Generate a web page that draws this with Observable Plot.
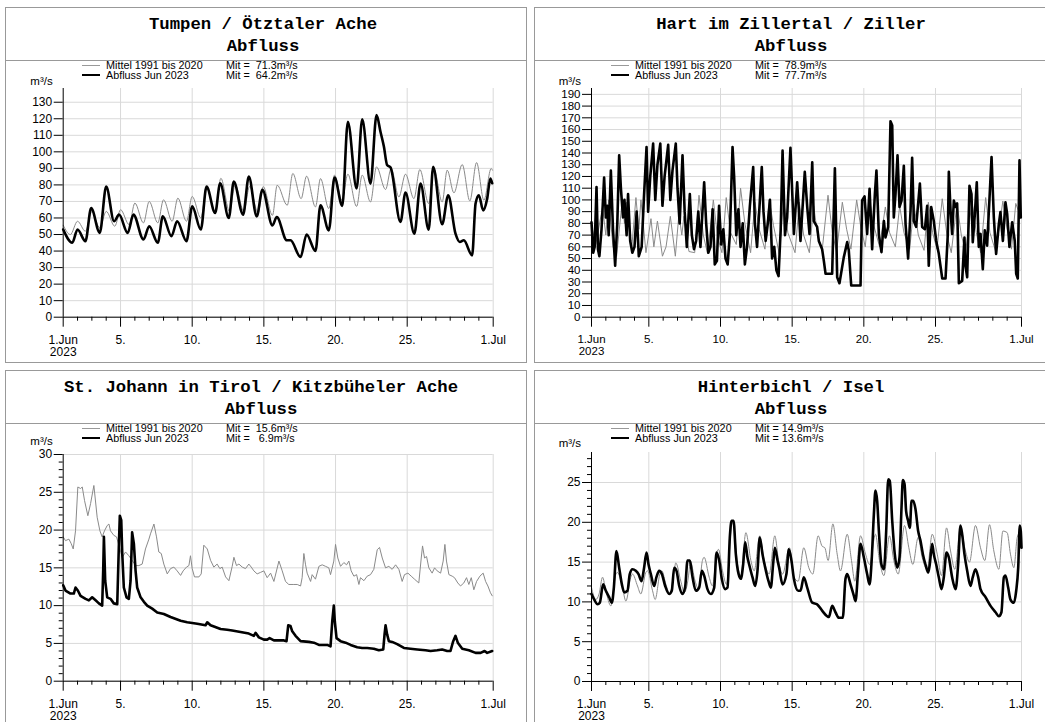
<!DOCTYPE html>
<html><head><meta charset="utf-8">
<script src="https://cdn.jsdelivr.net/npm/d3@7"></script>
<script src="https://cdn.jsdelivr.net/npm/@observablehq/plot@0.6"></script>
<style>
html,body{margin:0;padding:0;background:#fff;}
#page{position:relative;width:1045px;height:722px;overflow:hidden;font-family:"Liberation Sans",Arial,sans-serif;color:#000;}
.box{position:absolute;border:1px solid #999;box-sizing:border-box;}
.sep{position:absolute;height:0;border-top:1px solid #999;}
.t{position:absolute;white-space:pre;height:20px;line-height:20px;}
.title{font-family:"Liberation Mono","Courier New",monospace;font-weight:bold;font-size:17.3px;}
.leg{font-size:10.8px;}
.unit{font-size:11.5px;}
.plot{position:absolute;}
#page svg text{font-size:12px;font-family:"Liberation Sans",Arial,sans-serif;fill:#000;}
#page svg.dense text{font-size:11.5px;}
</style>
</head><body><div id="page"></div>
<script>
// ---------- shared axis definitions ----------
const majorDays = [0, 4, 9, 14, 19, 24, 30];
const xTickLabels = ["1.Jun\n2023", "5.", "10.", "15.", "20.", "25.", "1.Jul"];
const legendLabels = ["Mittel 1991 bis 2020", "Abfluss Jun 2023"];

// ---------- Tumpen / Ötztaler Ache ----------
const tumpenYTicks = [0,10,20,30,40,50,60,70,80,90,100,110,120,130];
const tumpenMeans = ["Mit =  71.3m³/s", "Mit =  64.2m³/s"];
const tumpenMittel = [[0,55.6],[0.5,50],[1.0,58],[1.55,52],[2.0,64],[2.55,54],[3.0,64],[3.6,55],[4.0,65],[4.6,56],[5.0,69],[5.6,57],[6.0,70],[6.6,57],[7.0,71],[7.6,58],[8.0,72],[8.6,58],[9.0,73],[9.6,60],[10.0,78],[10.6,64],[11.0,84],[11.6,64],[12.0,80],[12.6,64],[13.0,79],[13.6,63],[13.95,79],[14.6,61.6],[14.93,79.8],[15.63,67.7],[16.02,86.9],[16.6,71.7],[16.98,85.3],[17.6,66.7],[17.95,83.8],[18.53,65.7],[18.93,85.9],[19.45,70.7],[19.86,86.5],[20.47,67],[20.86,85.9],[21.44,69.7],[21.86,90.9],[22.49,77.2],[22.88,89.9],[23.42,72.7],[23.88,86.5],[24.47,71.7],[24.88,89.3],[25.5,68.7],[25.86,89.9],[26.44,69.7],[26.79,88.9],[27.26,75.2],[27.84,92.3],[28.37,70.3],[28.84,93.5],[29.35,70.7],[29.86,89.9],[29.95,88.9]];
const tumpenAbfluss = [[0,53],[0.63,45],[1.0,53],[1.55,46],[1.95,66],[2.55,51],[3.0,79],[3.55,58],[3.9,62],[4.5,51],[4.9,62],[5.6,47],[6.0,55],[6.6,45],[6.95,61],[7.55,49],[7.95,58],[8.6,46],[9.0,67],[9.6,53],[10.0,79],[10.6,63],[10.95,81],[11.55,60],[11.9,82],[12.55,62],[12.95,85],[13.5,61],[13.9,77],[14.6,55.5],[14.9,60.6],[15.6,46.5],[15.86,46.5],[16.56,36.4],[16.98,50],[17.6,40],[17.95,67.7],[18.53,52.5],[18.93,84.4],[19.47,67.3],[19.86,118.2],[20.47,77.8],[20.86,119.6],[21.44,80.8],[21.86,122.2],[22.14,112],[22.37,103.4],[22.6,92],[22.84,90.5],[23.53,57.6],[23.88,75.4],[24.5,50.5],[24.93,80.8],[25.5,52.9],[25.81,90.9],[26.44,56.2],[26.86,73.7],[27.37,50.5],[27.67,45.5],[27.95,46.5],[28.53,37.4],[28.77,68.7],[29.0,73.7],[29.3,64.6],[29.58,71.7],[29.8,83.8],[29.93,81]];

// ---------- Hart im Zillertal / Ziller ----------
const hartYTicks = [0,10,20,30,40,50,60,70,80,90,100,110,120,130,140,150,160,170,180,190];
const hartMeans = ["Mit =  78.9m³/s", "Mit =  77.7m³/s"];
const hartMittel = [[0,78],[0.3,62],[0.77,94],[1.0,70],[1.2,100],[1.5,60],[1.75,52],[2.15,100],[2.3,80],[2.45,98],[2.8,58],[3.1,102],[3.3,75],[3.45,100],[3.8,55],[4.15,84],[4.35,60],[4.6,82],[4.95,52],[5.2,60],[5.5,86],[5.85,52],[6.1,88],[6.3,70],[6.45,86],[6.8,56],[7.2,55],[7.5,104],[7.8,70],[8.1,54],[8.5,100],[8.8,68],[9.1,55],[9.4,102],[9.7,72],[10.1,62],[10.4,110],[10.7,80],[11.1,55],[11.4,98],[11.7,75],[12.1,58],[12.4,100],[12.7,78],[13.1,54],[13.4,100],[13.7,72],[14.2,55],[14.5,98],[14.8,70],[15.2,55],[15.5,95],[15.8,68],[16.1,58],[16.5,104],[16.8,72],[17.1,56],[17.5,98],[17.8,75],[18.1,58],[18.5,100],[18.8,76],[19.1,60],[19.4,100],[19.7,78],[20.1,60],[20.5,94],[20.8,72],[21.2,60],[21.5,95],[21.8,72],[22.2,58],[22.5,96],[22.8,70],[23.2,57],[23.5,98],[23.8,72],[24.1,58],[24.47,101],[24.8,70],[25.1,55],[25.5,97],[25.8,70],[26.1,56],[26.55,98],[26.85,72],[27.15,55],[27.5,102],[27.8,72],[28.2,56],[28.7,99],[29.0,75],[29.3,58],[29.6,97],[29.95,85]];
const hartAbfluss = [[0,81],[0.12,55],[0.22,60],[0.35,111],[0.45,58],[0.55,52],[0.7,75],[0.88,119],[1.0,85],[1.1,95],[1.2,70],[1.35,125],[1.5,75],[1.65,44],[1.8,80],[1.93,138],[2.05,110],[2.2,85],[2.3,100],[2.45,70],[2.55,105],[2.7,65],[2.85,55],[3.0,60],[3.15,90],[3.3,52],[3.5,60],[3.65,100],[3.84,145],[3.95,90],[4.1,120],[4.3,148],[4.45,100],[4.6,130],[4.8,148],[4.95,95],[5.1,120],[5.35,147],[5.5,100],[5.65,125],[5.88,148],[6.0,110],[6.15,80],[6.35,138],[6.5,90],[6.65,60],[6.86,105],[7.0,70],[7.15,58],[7.3,65],[7.45,90],[7.6,60],[7.86,115],[8.0,80],[8.15,55],[8.3,60],[8.45,92],[8.6,45],[8.75,48],[8.9,95],[9.05,62],[9.2,75],[9.35,50],[9.5,45],[9.65,70],[9.84,145],[9.95,120],[10.1,70],[10.25,92],[10.4,60],[10.55,80],[10.7,45],[10.85,60],[11.05,95],[11.28,128],[11.4,80],[11.55,60],[11.7,90],[11.88,128],[12.0,90],[12.15,65],[12.3,80],[12.45,100],[12.6,50],[12.75,60],[12.9,40],[13.05,35],[13.2,75],[13.33,142],[13.5,70],[13.65,85],[13.88,144.5],[14.12,71],[14.35,115],[14.47,91],[14.58,65],[14.88,124],[15.05,94],[15.21,71],[15.4,132],[15.51,82],[15.74,77],[15.86,65],[16.09,58],[16.21,48],[16.33,37],[16.79,37],[16.98,127],[17.14,34],[17.3,29],[17.6,51],[17.84,64],[17.95,57],[18.12,27],[18.77,27],[18.88,99.5],[19.05,103],[19.23,71],[19.4,109.5],[19.58,58],[19.77,105],[19.88,125],[20.05,70],[20.23,55.5],[20.4,82],[20.51,68],[20.7,77],[20.86,167],[20.98,163.5],[21.09,85],[21.21,105],[21.35,138],[21.49,94],[21.63,99.5],[21.79,129],[21.91,79.6],[22.09,50],[22.26,91],[22.37,136],[22.49,82],[22.65,77],[22.91,114],[23.07,77],[23.26,75],[23.42,95],[23.53,44],[23.7,94],[23.88,82],[24.05,65],[24.23,54],[24.47,33],[24.7,33],[24.86,71],[24.93,124],[25.05,91],[25.16,71],[25.28,99.5],[25.4,94],[25.51,97],[25.63,29],[25.86,31],[26.02,68],[26.09,44],[26.21,34],[26.37,112],[26.51,105],[26.6,64],[26.74,87],[26.88,115],[27.02,60],[27.14,71],[27.3,41],[27.44,74],[27.6,61],[27.77,102],[27.91,136.5],[28.07,85],[28.23,54],[28.42,79.6],[28.53,89.6],[28.7,65],[28.88,98],[29.0,88],[29.16,60],[29.35,81],[29.53,65],[29.63,37],[29.74,33],[29.86,133.7],[29.95,85]];

// ---------- St. Johann in Tirol / Kitzbüheler Ache ----------
const stJohannYTicks = [0,5,10,15,20,25,30];
const stJohannYMinor = d3.range(0, 31).filter(v => v % 5 !== 0);
const stJohannMeans = ["Mit =  15.6m³/s", "Mit =   6.9m³/s"];
const stJohannMittel = [[0,19.1],[0.16,18.6],[0.4,18.8],[0.56,18.2],[0.7,17.5],[0.86,19.9],[1.02,25.7],[1.21,25.5],[1.33,25.7],[1.49,23.9],[1.72,21.9],[1.91,23.5],[2.14,25.9],[2.37,21.7],[2.56,19.9],[2.72,19.1],[2.88,19.9],[3.07,20.6],[3.19,20.8],[3.3,19.9],[3.53,19.3],[3.72,19.1],[3.88,18.0],[4.12,16.4],[4.35,17.1],[4.58,16.6],[4.81,16.0],[5.05,15.3],[5.28,15.3],[5.51,15.5],[5.74,17.5],[5.98,18.8],[6.09,19.5],[6.33,20.8],[6.51,19.1],[6.67,17.1],[6.84,16.9],[7.02,15.5],[7.26,14.2],[7.49,14.9],[7.72,15.1],[7.95,14.6],[8.19,14.0],[8.37,14.6],[8.6,15.1],[8.77,15.3],[8.88,16.6],[9.0,14.9],[9.16,13.8],[9.47,13.8],[9.63,14.2],[9.81,18.0],[10.05,17.5],[10.28,16.0],[10.51,15.1],[10.74,15.5],[10.93,14.9],[11.09,15.1],[11.33,13.8],[11.56,13.3],[11.79,15.2],[11.91,16.4],[12.09,15.3],[12.26,15.5],[12.49,15.1],[12.72,14.9],[12.95,15.5],[13.12,15.1],[13.3,14.6],[13.53,14.2],[13.77,14.4],[14.0,14.6],[14.23,13.7],[14.47,14.3],[14.7,13.2],[15.05,15.9],[15.28,14.6],[15.51,13.2],[15.74,12.8],[16.09,12.8],[16.33,12.8],[16.56,12.6],[16.67,13.7],[16.79,16.9],[16.91,15.4],[17.02,14.3],[17.26,13.2],[17.37,14.1],[17.6,13.5],[17.84,15.2],[18.07,15.4],[18.3,15.2],[18.53,15.0],[18.65,14.1],[18.88,15.9],[19.0,18.1],[19.16,16.3],[19.35,15.2],[19.58,15.7],[19.77,15.4],[19.93,15.9],[20.09,14.6],[20.28,13.9],[20.47,14.1],[20.63,12.8],[20.74,13.7],[20.98,13.3],[21.21,13.9],[21.44,14.1],[21.67,14.8],[21.91,17.4],[22.07,17.7],[22.26,16.3],[22.49,15.0],[22.72,15.2],[22.95,14.8],[23.19,15.4],[23.42,14.8],[23.65,13.2],[23.81,14.1],[24.05,14.3],[24.28,13.9],[24.51,13.5],[24.81,13.0],[24.98,16.3],[25.07,17.9],[25.21,16.3],[25.35,16.5],[25.51,15.0],[25.74,14.3],[25.91,15.0],[26.09,14.6],[26.33,14.3],[26.51,15.9],[26.63,18.1],[26.74,15.9],[26.91,14.1],[27.14,13.9],[27.3,13.7],[27.53,13.0],[27.72,12.6],[27.95,13.0],[28.14,13.7],[28.3,12.8],[28.47,13.7],[28.65,12.1],[28.84,13.2],[29.07,13.9],[29.3,14.3],[29.47,13.2],[29.63,12.6],[29.81,11.7],[29.93,11.3]];
const stJohannAbfluss = [[0,12.7],[0.16,12.0],[0.51,11.6],[0.74,11.6],[0.86,12.4],[1.02,12.0],[1.21,11.3],[1.56,10.9],[1.79,10.7],[2.02,11.1],[2.26,10.7],[2.49,10.3],[2.72,10.0],[2.79,14.6],[2.84,19.1],[2.93,13.3],[3.07,11.1],[3.3,10.9],[3.53,10.3],[3.77,10.2],[3.88,17.7],[3.95,21.9],[4.05,21.3],[4.12,16.9],[4.23,12.4],[4.42,11.1],[4.58,10.9],[4.7,13.3],[4.81,19.7],[4.93,18.2],[5.05,14.6],[5.16,12.4],[5.4,11.1],[5.63,10.5],[5.86,10.0],[6.21,9.6],[6.56,9.1],[7.02,8.9],[7.49,8.5],[8.19,8.0],[8.65,7.8],[9.35,7.6],[9.93,7.4],[10.05,7.8],[10.28,7.4],[10.98,6.9],[11.44,6.8],[11.79,6.7],[12.37,6.5],[12.95,6.3],[13.3,6.0],[13.42,6.4],[13.65,5.8],[14.0,5.5],[14.23,5.5],[14.4,5.7],[14.7,5.4],[15.4,5.4],[15.58,5.3],[15.7,7.4],[15.86,7.3],[15.98,6.6],[16.21,6.0],[16.56,5.3],[17.14,5.2],[17.49,5.1],[17.84,4.8],[18.42,4.8],[18.65,4.6],[18.77,7.9],[18.88,10.0],[18.95,7.9],[19.07,5.7],[19.35,5.3],[19.7,5.1],[20.05,4.8],[20.51,4.5],[20.86,4.4],[21.21,4.4],[21.67,4.3],[22.02,4.1],[22.33,4.2],[22.42,6.2],[22.49,7.4],[22.6,6.2],[22.72,5.3],[22.95,5.2],[23.3,4.9],[23.77,4.4],[24.23,4.3],[24.7,4.2],[25.28,4.1],[25.63,4.0],[26.09,4.1],[26.44,4.2],[26.79,4.0],[27.02,4.0],[27.21,5.3],[27.37,6.0],[27.53,5.1],[27.84,4.3],[28.3,4.1],[28.77,3.75],[29.12,3.75],[29.4,4.0],[29.58,3.75],[29.93,4.0]];

// ---------- Hinterbichl / Isel ----------
const hinterbichlYTicks = [0,5,10,15,20,25];
const hinterbichlYMinor = d3.range(0, 29).filter(v => v % 5 !== 0);
const hinterbichlMeans = ["Mit = 14.9m³/s", "Mit = 13.6m³/s"];
const hinterbichlMittel = [[0,11.8],[0.3,10.3],[0.53,11.0],[0.77,13.1],[1.0,11.4],[1.35,9.5],[1.7,13.5],[1.81,13.7],[2.16,11.8],[2.4,10.1],[2.74,13.1],[2.86,13.5],[3.21,12.0],[3.44,11.0],[3.79,13.7],[3.91,13.9],[4.26,11.4],[4.44,10.3],[4.77,13.5],[4.91,13.9],[5.19,12.2],[5.47,11.0],[5.77,13.9],[5.88,14.9],[6.23,12.6],[6.47,11.2],[6.81,13.9],[6.88,15.2],[7.23,12.6],[7.47,11.6],[7.74,15.2],[7.86,15.6],[8.21,13.1],[8.44,12.0],[8.74,16.2],[8.86,16.6],[9.14,13.9],[9.42,12.2],[9.79,19.8],[9.88,20.0],[10.19,14.7],[10.42,13.3],[10.77,18.7],[11.12,15.2],[11.35,13.9],[11.74,18.3],[12.05,15.2],[12.4,13.5],[12.79,18.3],[13.05,15.2],[13.33,13.5],[13.81,16.8],[14.12,13.1],[14.42,12.6],[14.81,16.8],[15.16,14.3],[15.44,13.5],[15.81,18.3],[16.09,17.0],[16.28,16.8],[16.51,15.2],[16.84,19.8],[17.14,16.0],[17.37,13.9],[17.84,18.5],[18.14,15.2],[18.37,12.6],[18.77,18.3],[19.12,16.0],[19.4,14.7],[19.81,18.5],[20.09,15.2],[20.4,13.3],[20.79,18.3],[21.09,15.2],[21.4,13.5],[21.84,19.6],[22.14,16.8],[22.42,14.7],[22.79,18.1],[23.07,15.6],[23.42,14.1],[23.77,18.5],[24.12,16.0],[24.42,13.3],[24.77,19.3],[25.05,16.4],[25.35,14.1],[25.74,19.3],[26.09,16.4],[26.37,15.0],[26.79,19.6],[27.14,16.8],[27.44,15.2],[27.77,19.7],[28.07,16.4],[28.42,14.1],[28.7,18.9],[29.0,18.7],[29.23,16.0],[29.47,14.3],[29.7,18.1],[29.93,18.9]];
const hinterbichlAbfluss = [[0,11.0],[0.19,10.3],[0.42,9.7],[0.58,9.9],[0.81,12.2],[1.0,11.4],[1.23,10.6],[1.42,9.9],[1.56,11.8],[1.74,16.4],[1.93,14.3],[2.12,12.2],[2.28,11.2],[2.51,11.4],[2.67,13.5],[2.86,14.1],[3.09,13.9],[3.28,13.5],[3.49,12.6],[3.67,14.3],[3.84,16.2],[3.98,14.7],[4.14,13.5],[4.37,12.0],[4.53,13.1],[4.72,13.9],[4.91,13.5],[5.14,12.0],[5.42,11.0],[5.6,11.4],[5.77,14.3],[5.93,13.9],[6.12,12.0],[6.35,11.0],[6.53,11.8],[6.7,15.2],[6.86,15.2],[7.05,13.1],[7.28,11.4],[7.51,11.8],[7.7,13.9],[7.86,13.3],[8.09,11.6],[8.33,11.0],[8.56,11.8],[8.72,16.2],[8.91,15.2],[9.09,12.9],[9.33,11.6],[9.49,11.8],[9.65,18.1],[9.77,20.2],[9.91,20.2],[10.07,16.0],[10.26,13.5],[10.42,12.9],[10.58,14.7],[10.72,17.5],[10.88,15.6],[11.0,14.7],[11.23,13.1],[11.42,12.0],[11.58,13.9],[11.74,18.1],[11.93,16.0],[12.12,14.3],[12.35,12.6],[12.51,11.8],[12.67,14.7],[12.79,16.8],[12.98,15.2],[13.09,14.3],[13.33,12.2],[13.6,13.5],[13.77,16.6],[13.95,15.2],[14.12,12.9],[14.42,11.4],[14.58,11.4],[14.81,13.1],[15.05,11.8],[15.4,9.9],[15.74,9.7],[16.09,8.9],[16.44,8.2],[16.56,8.1],[16.79,9.5],[17.02,8.7],[17.26,8.0],[17.53,8.0],[17.72,12.9],[17.84,13.5],[18.07,12.2],[18.3,10.8],[18.42,10.1],[18.6,13.9],[18.77,17.3],[19.0,15.6],[19.23,13.5],[19.4,12.2],[19.53,14.7],[19.7,21.0],[19.81,24.0],[19.93,22.7],[20.05,18.9],[20.23,14.7],[20.4,14.1],[20.56,18.9],[20.7,25.4],[20.81,25.2],[20.98,20.2],[21.16,16.0],[21.33,14.3],[21.49,15.6],[21.63,21.9],[21.72,25.3],[21.84,24.8],[21.95,21.4],[22.09,20.2],[22.21,19.3],[22.33,22.7],[22.44,22.7],[22.6,21.7],[22.79,18.9],[22.95,17.7],[23.12,16.0],[23.3,14.7],[23.49,13.7],[23.6,14.7],[23.77,17.3],[23.88,16.0],[24.05,14.7],[24.23,13.1],[24.42,11.6],[24.58,13.1],[24.77,16.2],[24.93,15.6],[25.16,13.1],[25.4,11.6],[25.58,14.7],[25.74,19.6],[25.86,18.5],[26.02,16.0],[26.21,13.9],[26.44,12.0],[26.6,13.1],[26.79,14.1],[26.98,13.1],[27.14,11.6],[27.49,10.6],[27.84,9.5],[28.19,8.7],[28.42,8.2],[28.6,8.7],[28.77,13.1],[28.88,13.3],[29.07,11.8],[29.23,10.3],[29.47,9.9],[29.63,11.4],[29.77,14.3],[29.88,19.6],[29.95,18.9],[30.0,16.8]];

// ---------- panel layout ----------
const panels = [
  {title:"Tumpen / Ötztaler Ache", left:5, width:522, top:7, height:356, titleCx:263, unitY:73.5,
   plotLeft:62.7, plotRight:492.7, y0:316.7, yTop:88, yMax:138.3,
   yTicks:tumpenYTicks, yMinor:[], means:tumpenMeans, mittel:tumpenMittel, abfluss:tumpenAbfluss, curve:"monotone-x", dense:false},
  {title:"Hart im Zillertal / Ziller", left:534, width:512, top:7, height:356, titleCx:791, unitY:73.5,
   plotLeft:591, plotRight:1021, y0:316.7, yTop:88, yMax:195,
   yTicks:hartYTicks, yMinor:[], means:hartMeans, mittel:hartMittel, abfluss:hartAbfluss, curve:"linear", dense:true},
  {title:"St. Johann in Tirol / Kitzbüheler Ache", left:5, width:522, top:370, height:400, titleCx:261, unitY:70.5,
   plotLeft:62.7, plotRight:492.7, y0:680.7, yTop:454, yMax:30,
   yTicks:stJohannYTicks, yMinor:stJohannYMinor, means:stJohannMeans, mittel:stJohannMittel, abfluss:stJohannAbfluss, curve:"linear", dense:false},
  {title:"Hinterbichl / Isel", left:534, width:512, top:370, height:400, titleCx:791, unitY:73,
   plotLeft:591, plotRight:1021, y0:680.7, yTop:451.7, yMax:28.77,
   yTicks:hinterbichlYTicks, yMinor:hinterbichlYMinor, means:hinterbichlMeans, mittel:hinterbichlMittel, abfluss:hinterbichlAbfluss, curve:"monotone-x", dense:false}
];

const page = document.getElementById("page");
function el(cls, style, text) {
  const d = document.createElement("div");
  d.className = cls;
  Object.assign(d.style, style);
  if (text != null) d.textContent = text;
  page.appendChild(d);
  return d;
}
function txt(cls, s, x, cy, anchor) {
  const st = {top: (cy - 10) + "px"};
  if (anchor === "middle") { st.left = (x - 400) + "px"; st.width = "800px"; st.textAlign = "center"; }
  else if (anchor === "end") { st.left = (x - 200) + "px"; st.width = "200px"; st.textAlign = "right"; }
  else st.left = x + "px";
  return el("t " + cls, st, s);
}

const minorDays = d3.range(1, 30).filter(d => !majorDays.includes(d));
const xLabelMap = new Map(majorDays.map((d, i) => [d, xTickLabels[i]]));

for (const p of panels) {
  el("box", {left:p.left+"px", top:p.top+"px", width:p.width+"px", height:p.height+"px"});
  el("sep", {left:p.left+"px", top:(p.top+53)+"px", width:p.width+"px"});
  txt("title", p.title, p.titleCx, p.top + 18, "middle");
  txt("title", "Abfluss", p.titleCx, p.top + 40, "middle");
  // legend
  const lx = p.left + 77;
  el("", {position:"absolute", left:lx+"px", top:(p.top+58)+"px", width:"18px", height:"0", borderTop:"1px solid #999"});
  el("", {position:"absolute", left:lx+"px", top:(p.top+68-1)+"px", width:"18px", height:"0", borderTop:"2.5px solid #000"});
  txt("leg", legendLabels[0], p.left + 101, p.top + 58);
  txt("leg", legendLabels[1], p.left + 101, p.top + 68);
  txt("leg", p.means[0], p.left + 221, p.top + 58);
  txt("leg", p.means[1], p.left + 221, p.top + 68);
  txt("unit", "m³/s", p.plotLeft - 10, p.top + p.unitY, "end");

  // plot
  const svgLeft = p.left + 1;
  const svgTop = p.yTop - 15;
  const svgRight = Math.min(1045, p.left + p.width - 1);
  const width = svgRight - svgLeft;
  const height = Math.round(p.y0 + 45 - svgTop);
  const marks = [
    Plot.gridY(p.yTicks, {stroke:"#d9d9d9", strokeOpacity:1}),
    Plot.gridX(majorDays.slice(1), {stroke:"#d9d9d9", strokeOpacity:1}),
    Plot.line(p.mittel, {x:d => d[0], y:d => d[1], stroke:"#8a8a8a", strokeWidth:1, curve:p.curve}),
    Plot.line(p.abfluss, {x:d => d[0], y:d => d[1], stroke:"#000", strokeWidth:2.6, curve:p.curve, strokeLinejoin:"round"}),
    Plot.ruleX([0], {stroke:"#000", strokeWidth:1}),
    Plot.ruleY([0], {stroke:"#000", strokeWidth:1}),
    Plot.axisY(p.yTicks, {tickSize:9, tickPadding:2, label:null}),
    Plot.axisX(majorDays, {tickSize:10, tickPadding:8, label:null, tickFormat:d => xLabelMap.get(d)}),
    Plot.axisX(minorDays, {tickSize:4, label:null, tickFormat:() => ""})
  ];
  if (p.yMinor.length) marks.push(Plot.axisY(p.yMinor, {tickSize:4, label:null, tickFormat:() => ""}));
  const chart = Plot.plot({
    width, height,
    marginLeft: p.plotLeft - svgLeft,
    marginRight: svgLeft + width - p.plotRight,
    marginTop: p.yTop - svgTop,
    marginBottom: height - (p.y0 - svgTop),
    x: {domain:[0, 30]},
    y: {domain:[0, p.yMax]},
    style: {fontFamily:'"Liberation Sans", Arial, sans-serif', fontSize:"12px", background:"transparent", color:"#000", overflow:"visible"},
    marks
  });
  chart.classList.add("plot");
  if (p.dense) chart.classList.add("dense");
  chart.style.left = svgLeft + "px";
  chart.style.top = svgTop + "px";
  page.appendChild(chart);
}
</script>
</body></html>
